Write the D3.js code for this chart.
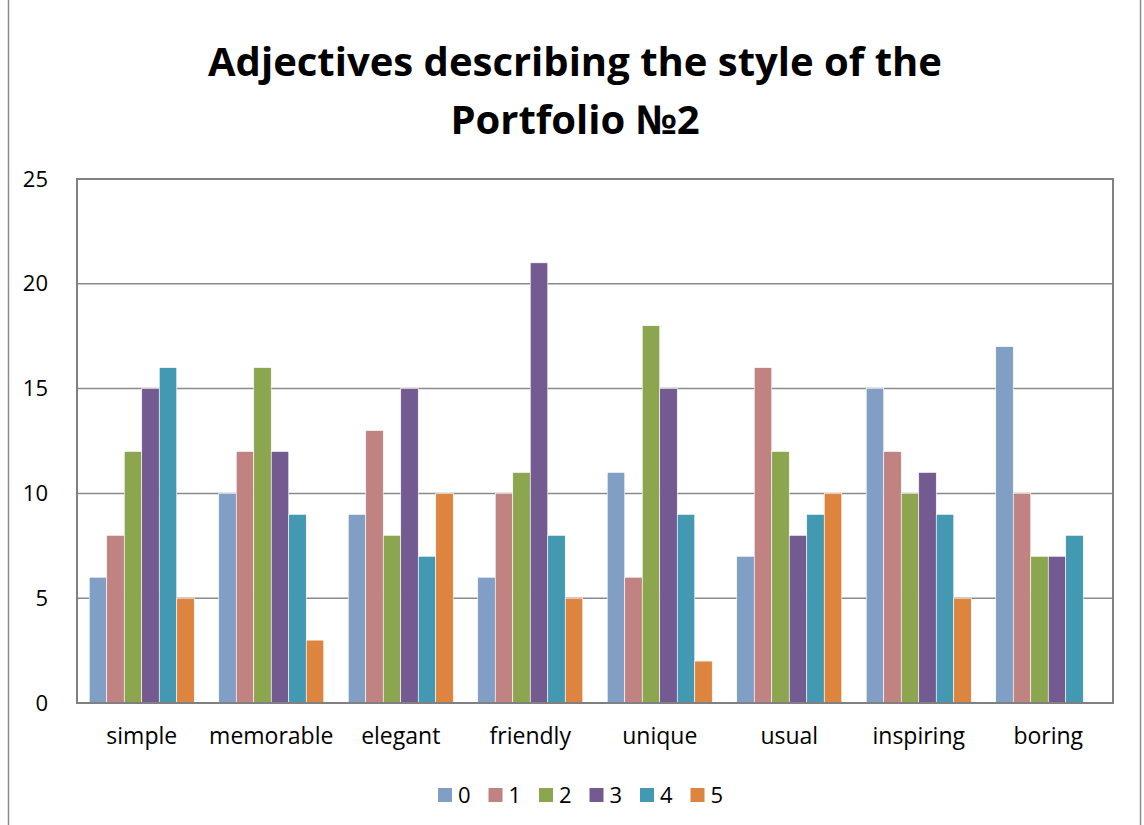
<!DOCTYPE html>
<html>
<head>
<meta charset="utf-8">
<script src="https://cdn.jsdelivr.net/npm/d3@7"></script>
<style>
  body { margin: 0; background: #fff; }
  text { font-family: "Open Sans", "DejaVu Sans", sans-serif; }
</style>
</head>
<body>
<svg width="1144" height="825"></svg>
<script>
// categories along x
const categories = ["simple", "memorable", "elegant", "friendly", "unique", "usual", "inspiring", "boring"];
const seriesNames = ["0", "1", "2", "3", "4", "5"];
// one array per series
const s0 = [6, 10, 9, 6, 11, 7, 15, 17];
const s1 = [8, 12, 13, 10, 6, 16, 12, 10];
const s2 = [12, 16, 8, 11, 18, 12, 10, 7];
const s3 = [15, 12, 15, 21, 15, 8, 11, 7];
const s4 = [16, 9, 7, 8, 9, 9, 9, 8];
const s5 = [5, 3, 10, 5, 2, 10, 5, 0];
const yTicks = [0, 5, 10, 15, 20, 25];
const colors = ["#819EC5", "#C18381", "#8BA64F", "#735A90", "#4399B1", "#DD853F"];

const series = [s0, s1, s2, s3, s4, s5];

const svg = d3.select("svg");
const plotL = 77, plotR = 1113, plotT = 179, plotB = 703;

// outer chart border
svg.append("rect")
    .attr("x", 8.5).attr("y", -2)
    .attr("width", 1132).attr("height", 830)
    .attr("fill", "none").attr("stroke", "#8c8c8c").attr("stroke-width", 1.5);

svg.append("text")
    .attr("x", 575).attr("y", 76)
    .attr("text-anchor", "middle")
    .style("font-size", "40px").style("font-weight", "bold")
    .text("Adjectives describing the style of the");
svg.append("text")
    .attr("x", 575).attr("y", 134)
    .attr("text-anchor", "middle")
    .style("font-size", "40px").style("font-weight", "bold")
    .text("Portfolio №2");

const x0 = d3.scaleBand().domain(categories).range([plotL, plotR]);
const x1 = d3.scaleBand().domain(seriesNames)
    .range([0, x0.bandwidth()])
    .paddingOuter(0.7);
const y = d3.scaleLinear().domain([0, 25]).range([plotB, plotT]);

// gridlines
svg.append("g")
    .selectAll("line")
    .data(yTicks.filter(d => d > 0 && d < 25)).enter()
    .append("line")
    .attr("x1", plotL).attr("x2", plotR)
    .attr("y1", d => y(d)).attr("y2", d => y(d))
    .attr("stroke", "#8a8a8a").attr("stroke-width", 1.5);

// bars
svg.append("g")
    .selectAll("g")
    .data(series).enter()
    .append("g")
    .attr("fill", (d, i) => colors[i])
    .selectAll("rect")
    .data((d, i) => d.map((v, j) => ({cat: categories[j], s: seriesNames[i], v: v}))).enter()
    .append("rect")
    .attr("x", d => x0(d.cat) + x1(d.s))
    .attr("width", x1.bandwidth())
    .attr("y", d => y(d.v))
    .attr("height", d => plotB - y(d.v))
    .attr("stroke", "#fff").attr("stroke-width", 0.6);

// plot frame
svg.append("rect")
    .attr("x", plotL).attr("y", plotT)
    .attr("width", plotR - plotL).attr("height", plotB - plotT)
    .attr("fill", "none").attr("stroke", "#808080").attr("stroke-width", 2);

// y axis
const yAxis = d3.axisLeft(y).tickValues(yTicks).tickSize(0).tickPadding(29);
svg.append("g")
    .attr("transform", "translate(" + plotL + ",0)")
    .call(yAxis)
    .call(g => g.select(".domain").remove())
    .selectAll("text")
    .style("font-size", "22px").attr("fill", "#000");

// x axis
const xAxis = d3.axisBottom(x0).tickSize(0).tickPadding(25);
svg.append("g")
    .attr("transform", "translate(0," + plotB + ")")
    .call(xAxis)
    .call(g => g.select(".domain").remove())
    .selectAll("text")
    .style("font-size", "23px").attr("fill", "#000");

// legend
const legend = svg.append("g").attr("transform", "translate(438,788)");
const item = legend.selectAll("g")
    .data(seriesNames).enter()
    .append("g")
    .attr("transform", (d, i) => "translate(" + (i * 50.5) + ",0)");
item.append("rect")
    .attr("width", 14).attr("height", 14)
    .attr("fill", (d, i) => colors[i]);
item.append("text")
    .attr("x", 20).attr("y", 15)
    .style("font-size", "22px")
    .text(d => d);
</script>
</body>
</html>
